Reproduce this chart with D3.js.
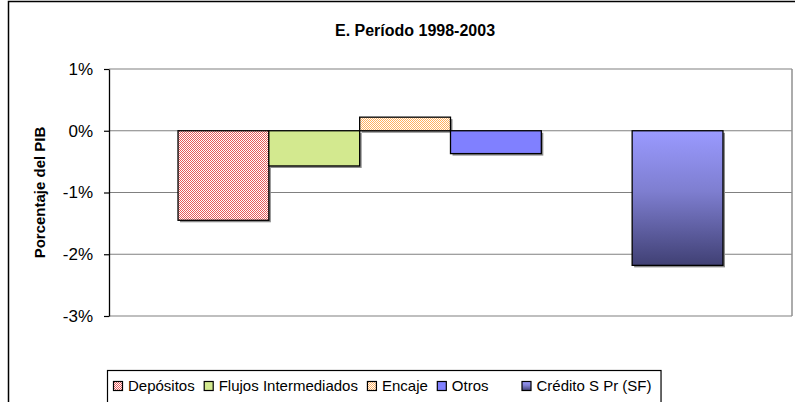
<!DOCTYPE html>
<html>
<head>
<meta charset="utf-8">
<script src="https://cdn.jsdelivr.net/npm/d3@7"></script>
<style>
  body { margin: 0; background: #fff; }
  svg { font-family: "Liberation Sans", Arial, sans-serif; display: block; }
</style>
</head>
<body>
<div id="chart"></div>
<script>
// data
const categories = ['Depósitos', 'Flujos Intermediados', 'Encaje', 'Otros', '', 'Crédito S Pr (SF)'];
const values = [-1.45, -0.57, 0.22, -0.37, null, -2.18];
const yTicks = [1, 0, -1, -2, -3];

const width = 795;
const height = 402;
const plot = { left: 109, right: 792, top: 69, bottom: 316 };

const svg = d3.select('#chart')
  .append('svg')
  .attr('width', width)
  .attr('height', height);

const defs = svg.append('defs');

// checker patterns for Depósitos and Encaje
function checker(id, color) {
  const p = defs.append('pattern')
    .attr('id', id)
    .attr('width', 2).attr('height', 2)
    .attr('patternUnits', 'userSpaceOnUse');
  p.append('rect').attr('width', 2).attr('height', 2).attr('fill', '#fff');
  p.append('rect').attr('width', 1).attr('height', 1).attr('fill', color);
  p.append('rect').attr('x', 1).attr('y', 1).attr('width', 1).attr('height', 1).attr('fill', color);
}
checker('pDep', '#e65a5a');
checker('pEnc', '#ffb060');

const grad = defs.append('linearGradient')
  .attr('id', 'gCred')
  .attr('x1', 0).attr('y1', 0).attr('x2', 0).attr('y2', 1);
grad.append('stop').attr('offset', '0%').attr('stop-color', '#9a9aff');
grad.append('stop').attr('offset', '45%').attr('stop-color', '#7e7ed0');
grad.append('stop').attr('offset', '100%').attr('stop-color', '#404074');

const fills = ['url(#pDep)', '#d3e98f', 'url(#pEnc)', '#8080ff', 'none', 'url(#gCred)'];

// outer chart border
svg.append('rect')
  .attr('x', 8.5).attr('y', 1.5)
  .attr('width', 830).attr('height', 430)
  .attr('fill', 'none')
  .attr('stroke', '#000')
  .attr('stroke-width', 1.5);

// Title
svg.append('text')
  .attr('x', 415)
  .attr('y', 36)
  .attr('text-anchor', 'middle')
  .style('font-size', '16px')
  .style('font-weight', 'bold')
  .text('E. Período 1998-2003');

// scales
const x = d3.scaleBand()
  .domain(categories.map((d, i) => i))
  .range([plot.left, plot.right])
  .paddingInner(0)
  .paddingOuter(0.76);

const y = d3.scaleLinear()
  .domain([-3, 1])
  .range([plot.bottom, plot.top]);

// gridlines
svg.append('g')
  .selectAll('line')
  .data(yTicks)
  .enter().append('line')
  .attr('x1', plot.left).attr('x2', plot.right)
  .attr('y1', d => y(d)).attr('y2', d => y(d))
  .attr('stroke', '#808080')
  .attr('stroke-width', 1.2);

// plot right border
svg.append('line')
  .attr('x1', plot.right).attr('x2', plot.right)
  .attr('y1', plot.top).attr('y2', plot.bottom)
  .attr('stroke', '#909090')
  .attr('stroke-width', 1.5);

// bars
const data = categories.map((c, i) => ({ i, c, v: values[i], fill: fills[i] }))
  .filter(d => d.v !== null);

const bars = svg.append('g');

// shadow
bars.selectAll('.shadow')
  .data(data)
  .enter().append('rect')
  .attr('class', 'shadow')
  .attr('x', d => x(d.i) + 2)
  .attr('y', d => Math.min(y(0), y(d.v)) + 2)
  .attr('width', x.bandwidth())
  .attr('height', d => Math.abs(y(d.v) - y(0)))
  .attr('fill', '#8a8a8a');

bars.selectAll('.bar')
  .data(data)
  .enter().append('rect')
  .attr('class', 'bar')
  .attr('x', d => x(d.i))
  .attr('y', d => Math.min(y(0), y(d.v)))
  .attr('width', x.bandwidth())
  .attr('height', d => Math.abs(y(d.v) - y(0)))
  .attr('fill', d => d.fill)
  .attr('stroke', '#000')
  .attr('stroke-width', 1.3);

// y axis
const yAxis = svg.append('g')
  .attr('transform', `translate(${plot.left},0)`)
  .call(d3.axisLeft(y).tickValues(yTicks).tickFormat(d => d + '%').tickSize(5).tickSizeOuter(0));
yAxis.select('.domain').attr('stroke', '#000').attr('stroke-width', 1.3);
yAxis.selectAll('.tick line').attr('stroke', '#000').attr('stroke-width', 1.2);
yAxis.selectAll('.tick text')
  .attr('x', -16)
  .style('font-size', '17px')
  .style('font-family', '"Liberation Sans", Arial, sans-serif')
  .attr('fill', '#000');

// y axis title
svg.append('text')
  .attr('transform', `translate(45,${(plot.top + plot.bottom) / 2}) rotate(-90)`)
  .attr('text-anchor', 'middle')
  .style('font-size', '15px')
  .style('font-weight', 'bold')
  .text('Porcentaje del PIB');

// legend
const legend = svg.append('g');
const legendBox = legend.append('rect')
  .attr('x', 107.5).attr('y', 370.5)
  .attr('height', 40)
  .attr('fill', '#fff')
  .attr('stroke', '#000')
  .attr('stroke-width', 1.2);

let lx = 113;
categories.forEach((c, i) => {
  if (c === '') { lx += 24; return; }
  legend.append('rect')
    .attr('x', lx + 0.5).attr('y', 381.5)
    .attr('width', 9).attr('height', 9)
    .attr('fill', fills[i])
    .attr('stroke', '#000')
    .attr('stroke-width', 1.2);
  const t = legend.append('text')
    .attr('x', lx + 15)
    .attr('y', 391)
    .style('font-size', '15px')
    .text(c);
  lx += 15 + t.node().getComputedTextLength() + 9;
});
legendBox.attr('width', lx - 107);
</script>
</body>
</html>
